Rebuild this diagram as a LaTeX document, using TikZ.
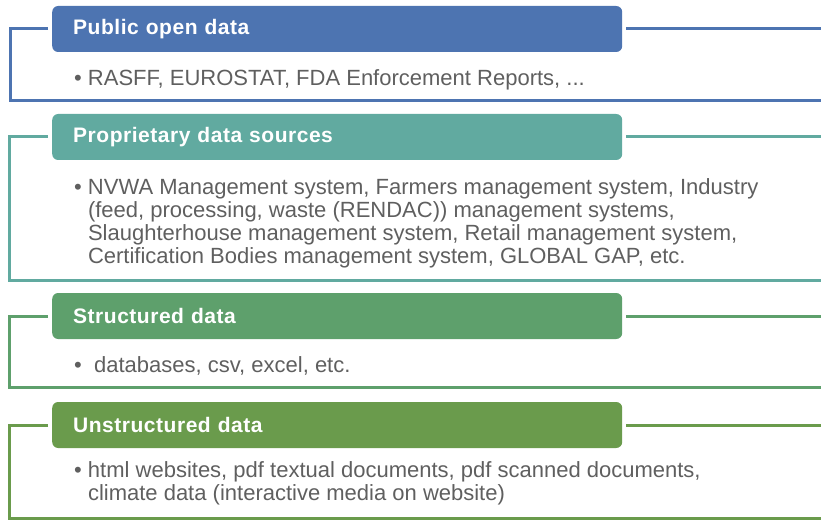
\documentclass[tikz,border=0pt]{standalone}
\usepackage{fontspec}
\setmainfont{Liberation Sans}
\definecolor{cblue}{RGB}{77,116,177}
\definecolor{cteal}{RGB}{97,170,160}
\definecolor{cgreenA}{RGB}{94,160,108}
\definecolor{cgreenB}{RGB}{106,155,76}
\definecolor{ctext}{RGB}{95,95,95}
\tikzset{
  hdr/.style={fill=#1, rounded corners=6pt, minimum height=46pt,
    anchor=west, inner xsep=21pt, inner ysep=0pt, text=white,
    font=\bfseries\fontsize{21}{24}\selectfont\addfontfeature{LetterSpace=2.5},
    align=left, text width=528pt},
  frame/.style={draw=#1, line width=3pt},
  body/.style={anchor=base west, inner sep=0pt, text=ctext, align=left,
    font=\fontsize{22}{23}\selectfont},
}
\begin{document}
\begin{tikzpicture}[x=1pt,y=-1pt]
\useasboundingbox (0,0) rectangle (821,521);
\clip (0,0) rectangle (821,521);

% Section 1
\node[hdr=cblue] (h1) at (52,29) {Public open data};
\coordinate (b1) at (10,101);
\draw[frame=cblue] ([xshift=-4pt]h1.west) -| (b1) -- (830,101);
\draw[frame=cblue] ([xshift=4pt]h1.east) -- (830,29);
\node[body] (t1) at (74,86) {• RASFF, EUROSTAT, FDA Enforcement Reports, ...};

% Section 2
\node[hdr=cteal] (h2) at (52,137) {Proprietary data sources};
\coordinate (b2) at (9,280);
\draw[frame=cteal] ([xshift=-4pt]h2.west) -| (b2) -- (830,280);
\draw[frame=cteal] ([xshift=4pt]h2.east) -- (830,137);
\node[body] (t2) at (74,263) {• NVWA Management system, Farmers management system, Industry\\
\hphantom{• }(feed, processing, waste (RENDAC)) management systems,\\
\hphantom{• }Slaughterhouse management system, Retail management system,\\
\hphantom{• }Certification Bodies management system, GLOBAL GAP, etc.};

% Section 3
\node[hdr=cgreenA] (h3) at (52,316) {Structured data};
\coordinate (b3) at (9,387);
\draw[frame=cgreenA] ([xshift=-4pt]h3.west) -| (b3) -- (830,387);
\draw[frame=cgreenA] ([xshift=4pt]h3.east) -- (830,316);
\node[body] (t3) at (74,372) {•\ \ databases, csv, excel, etc.};

% Section 4
\node[hdr=cgreenB] (h4) at (52,425) {Unstructured data};
\coordinate (b4) at (9,518);
\draw[frame=cgreenB] ([xshift=-4pt]h4.west) -| (b4) -- (830,518);
\draw[frame=cgreenB] ([xshift=4pt]h4.east) -- (830,425);
\node[body] (t4) at (74,500) {• html websites, pdf textual documents, pdf scanned documents,\\
\hphantom{• }climate data (interactive media on website)};
\end{tikzpicture}
\end{document}
